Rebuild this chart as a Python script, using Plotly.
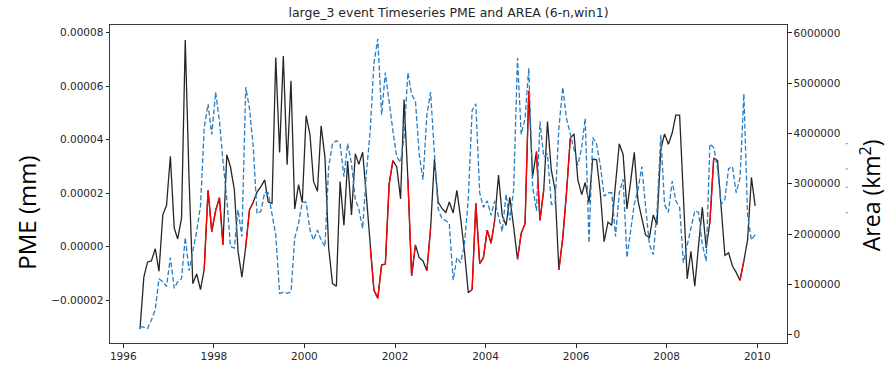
import numpy as np
import pandas as pd
import plotly.graph_objects as go

# ---- data -------------------------------------------------------------
# monthly samples, May 1996 .. Dec 2009
dates = pd.date_range("1996-05-01", periods=164, freq="MS") + pd.Timedelta(days=14)

# PME in units of 1e-5 mm
pme_e5 = [
    -3.08, -1.14, -0.57, -0.53, -0.07, -0.92, 1.19, 1.55, 3.38, 0.70, 0.29, 1.07,
    7.73, 2.50, -1.38, -1.02, -1.60, -0.84, 2.11, 0.56, 1.35, 1.83, 0.07, 3.44,
    2.98, 2.13, -0.17, -1.14, 0.01, 1.38, 1.67, 2.04, 2.25, 2.50, 1.67, 1.62,
    7.07, 3.52, 7.13, 3.07, 6.20, 1.41, 2.32, 1.65, 4.90, 4.19, 2.44, 2.07,
    4.52, 3.35, -0.05, -1.38, -1.48, 2.44, 0.80, 3.20, 1.19, 3.47, 3.08, 3.53,
    1.89, -0.02, -1.62, -1.93, -0.68, -0.65, 2.35, 3.22, 2.98, 1.79, 5.50, 2.52,
    -1.08, 0.07, -0.41, -0.53, -0.90, 0.68, 3.28, 1.67, 1.43, 1.28, 1.67, 1.26,
    2.11, 1.04, -0.17, -1.72, -1.60, 1.62, -0.63, -0.41, 0.62, 0.13, 0.98, 2.68,
    1.16, 0.80, 1.85, 0.74, -0.47, 0.50, 0.86, 5.83, 2.62, 3.56, 0.98, 2.13,
    4.68, 2.86, 2.13, -0.87, 0.32, 2.00, 4.05, 4.22, 2.50, 1.95, 2.40, 1.65,
    3.28, 3.25, 2.01, 0.19, 0.92, 0.80, 2.50, 3.85, 3.45, 1.41, 2.38, 3.53,
    1.71, 1.04, 0.44, 0.34, 1.19, 0.82, 3.64, 4.22, 3.83, 4.25, 4.92, 4.92,
    2.01, -1.20, -0.17, -1.48, 0.07, 1.47, -0.05, 0.92, 3.32, 3.22, 1.53, -0.32,
    -0.23, -0.72, -0.96, -1.26, -0.53, 0.25, 2.59, 1.53,
]

# Area in units of 1e6 km^2
area_e6 = [
    0.17, 0.14, 0.12, 0.29, 0.50, 1.11, 1.05, 0.96, 1.53, 0.92, 1.05, 1.11,
    1.93, 1.27, 1.66, 2.05, 2.56, 4.11, 4.59, 3.98, 4.82, 4.24, 3.46, 2.70,
    1.75, 1.72, 2.48, 1.95, 4.92, 4.50, 3.72, 2.40, 2.45, 2.83, 2.82, 2.43,
    1.98, 0.82, 0.84, 0.82, 0.85, 1.92, 2.21, 2.64, 2.63, 2.08, 1.88, 2.08,
    1.88, 1.75, 3.34, 3.80, 3.86, 3.79, 3.14, 3.80, 3.40, 2.69, 2.50, 2.11,
    3.21, 4.05, 5.40, 5.88, 4.37, 5.21, 4.56, 4.05, 3.53, 3.43, 3.92, 5.21,
    4.77, 4.64, 3.59, 3.08, 4.37, 4.82, 3.59, 2.50, 2.30, 2.27, 2.20, 1.08,
    1.53, 1.43, 1.79, 2.69, 4.46, 4.59, 2.82, 2.53, 2.66, 2.37, 2.66, 2.37,
    2.05, 2.79, 2.27, 2.88, 5.50, 3.98, 4.30, 5.30, 2.95, 2.46, 4.24, 3.53,
    3.59, 2.59, 2.59, 4.11, 4.92, 4.30, 3.98, 3.72, 3.37, 3.72, 4.30, 1.82,
    3.92, 3.79, 3.37, 2.75, 2.82, 2.82, 1.95, 2.82, 3.09, 1.53, 2.05, 2.59,
    2.88, 3.34, 2.56, 1.79, 1.59, 2.43, 3.97, 2.59, 2.43, 3.05, 2.66, 2.53,
    1.43, 1.79, 2.17, 2.46, 2.43, 1.79, 1.46, 3.79, 3.72, 3.30, 2.59, 2.69,
    3.30, 3.34, 2.82, 3.11, 4.79, 2.37, 1.88, 1.99,
]

# index ranges (inclusive) of the event periods drawn in red
event_segments = [(17, 22), (28, 30), (61, 67), (71, 73), (76, 77), (88, 94),
                  (100, 103), (105, 107), (111, 114), (151, 152), (159, 160)]

pme_ticks = [-0.00002, 0.0, 0.00002, 0.00004, 0.00006, 0.00008]
pme_ticktext = ["\u22120.00002", "0.00000", "0.00002", "0.00004", "0.00006", "0.00008"]
area_ticks = [0, 1000000, 2000000, 3000000, 4000000, 5000000, 6000000]
area_ticktext = ["0", "1000000", "2000000", "3000000", "4000000", "5000000", "6000000"]
year_ticks = ["1996", "1998", "2000", "2002", "2004", "2006", "2008", "2010"]

# ---- build ------------------------------------------------------------
pme = np.array(pme_e5) * 1e-5
area = np.array(area_e6) * 1e6

red = np.full(len(pme), np.nan)
for a, b in event_segments:
    red[a:b + 1] = pme[a:b + 1]

fig = go.Figure()
fig.add_trace(go.Scatter(x=dates, y=pme, mode="lines",
                         line=dict(color="#262626", width=1.3), yaxis="y"))
fig.add_trace(go.Scatter(x=dates, y=red, mode="lines", connectgaps=False,
                         line=dict(color="#ff0000", width=1.3), yaxis="y"))
fig.add_trace(go.Scatter(x=dates, y=area, mode="lines",
                         line=dict(color="#2a7dc0", width=1.3, dash="5px,2.4px"),
                         yaxis="y2"))

tickfont = dict(family="DejaVu Sans", size=10.5, color="#262626")
axis_common = dict(showline=True, linecolor="#3a3a3a", linewidth=1, ticks="outside",
                   ticklen=3.5, tickwidth=0.8, tickcolor="#262626",
                   showgrid=False, zeroline=False, tickfont=tickfont)

fig.update_layout(
    width=892, height=374,
    margin=dict(l=110, r=105, t=25, b=22),
    paper_bgcolor="white", plot_bgcolor="white",
    showlegend=False,
    title=dict(text="large_3 event Timeseries PME and AREA (6-n,win1)",
               x=0.5, xref="paper", xanchor="center",
               y=1 - 12.5 / 374, yref="container", yanchor="middle",
               font=dict(family="DejaVu Sans", size=12.5, color="#262626")),
    xaxis=dict(**axis_common, type="date", range=["1995-09-16", "2010-08-29"],
               tickvals=[f"{y}-01-01" for y in year_ticks], ticktext=year_ticks,
               mirror=True),
    yaxis=dict(**axis_common, range=[-0.0000360, 0.0000829],
               tickvals=pme_ticks, ticktext=pme_ticktext),
    yaxis2=dict(**axis_common, overlaying="y", side="right",
                range=[-168000, 6157000],
                tickvals=area_ticks, ticktext=area_ticktext),
    annotations=[
        dict(text="PME (mm)", textangle=-90, x=27, y=1 - 218 / 374,
             xref="paper", yref="paper", showarrow=False,
             xanchor="center", yanchor="middle",
             font=dict(family="Open Sans", size=24, color="black")),
        dict(text="Area (km<sup>2</sup>)", textangle=-90, x=871, y=1 - 200 / 374,
             xref="paper", yref="paper", showarrow=False,
             xanchor="center", yanchor="middle",
             font=dict(family="Open Sans", size=23, color="black")),
    ],
)

# convert the pixel anchors of the side labels to paper coords
pw = 892 - 110 - 105
ph = 374 - 25 - 22
for ann in fig.layout.annotations:
    px = ann.x
    py_top = (1 - ann.y) * 374
    ann.x = (px - 110) / pw
    ann.y = 1 - (py_top - 25) / ph

# tiny stray dots at the right margin
for yy in [147, 173, 192, 218]:
    fig.add_shape(type="rect", xref="paper", yref="paper",
                  x0=(846.2 - 110) / pw, x1=(847.4 - 110) / pw,
                  y0=1 - (yy + 0.6 - 25) / ph, y1=1 - (yy - 0.6 - 25) / ph,
                  line=dict(width=0), fillcolor="#555555")

fig.write_html("out.html")
